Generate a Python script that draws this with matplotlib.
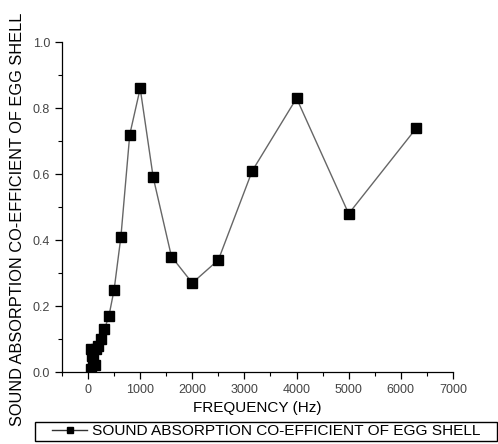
import matplotlib
matplotlib.use("Agg")
import matplotlib.pyplot as plt
from matplotlib.lines import Line2D
from matplotlib.patches import Rectangle
from matplotlib.ticker import MultipleLocator

plt.rcParams["font.family"] = ["Liberation Sans", "DejaVu Sans"]

# frequency (Hz) and absorption coefficient
freq = [50, 63, 80, 100, 125, 160, 200, 250, 315, 400, 500, 630, 800,
        1000, 1250, 1600, 2000, 2500, 3150, 4000, 5000, 6300]
alpha = [0.01, 0.07, 0.05, 0.04, 0.02, 0.07, 0.08, 0.10, 0.13, 0.17, 0.25, 0.41, 0.72,
         0.86, 0.59, 0.35, 0.27, 0.34, 0.61, 0.83, 0.48, 0.74]

label = "SOUND ABSORPTION CO-EFFICIENT OF EGG SHELL"

fig = plt.figure(figsize=(4.98, 4.44), dpi=100)
ax = fig.add_axes([0.1245, 0.162, 0.785, 0.743])

ax.plot(freq, alpha, color="#666666", lw=1.0, marker="s", ms=6.5,
        mfc="black", mec="black")

ax.set_xlim(-500, 7000)
ax.set_ylim(0, 1.0)
ax.xaxis.set_minor_locator(MultipleLocator(500))
ax.yaxis.set_minor_locator(MultipleLocator(0.1))
ax.set_xticks(range(0, 7001, 1000))
ax.set_yticks([0.0, 0.2, 0.4, 0.6, 0.8, 1.0])
ax.set_yticklabels(["0.0", "0.2", "0.4", "0.6", "0.8", "1.0"])

for side in ["top", "right"]:
    ax.spines[side].set_visible(False)
ax.spines["left"].set_linewidth(0.9)
ax.spines["bottom"].set_linewidth(0.9)
ax.tick_params(which="major", direction="out", length=5, width=0.9,
               labelsize=9, labelcolor="#444444")
ax.tick_params(which="minor", direction="out", length=3, width=0.8)

ax.set_xlabel("FREQUENCY (Hz)", fontsize=11, labelpad=4)
fig.text(0.036, 0.505, label, rotation=90, fontsize=11.8,
         ha="center", va="center")

# legend box along the bottom edge
fig.patches.append(Rectangle((0.070, 0.007), 0.928, 0.043, transform=fig.transFigure,
                             fill=False, edgecolor="black", lw=1.0))
handle = Line2D([], [], color="#333333", lw=1.0, marker="s", ms=5,
                mfc="black", mec="black")
fig.legend(handles=[handle], labels=[label], loc="center left",
           bbox_to_anchor=(0.104, 0.0285), fontsize=11.1, frameon=False,
           handlelength=2.3, handletextpad=0.3, borderpad=0, borderaxespad=0)

fig.savefig("out.png", dpi=100)
